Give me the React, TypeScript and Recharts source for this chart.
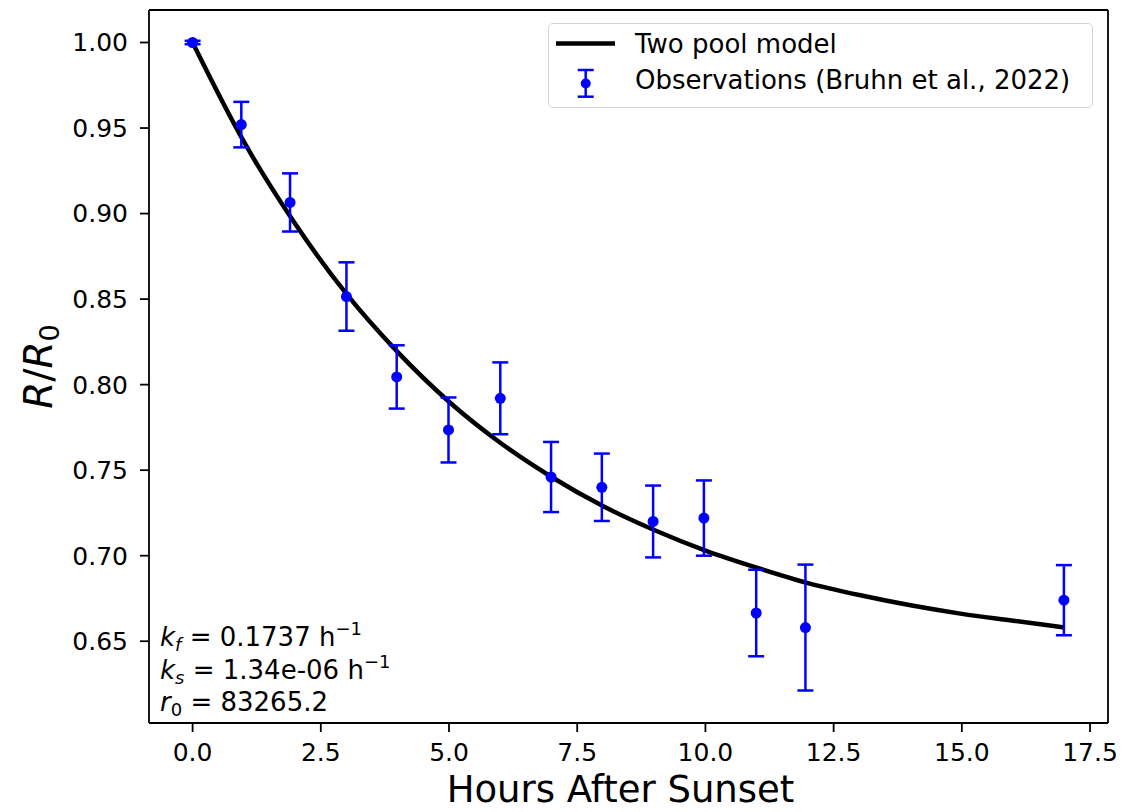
import { ComposedChart, ErrorBar, Label, Legend, Line, ReferenceLine, Scatter, XAxis, YAxis } from "recharts";

const FONT = "'DejaVu Sans', Verdana, sans-serif";
const BLUE = "#0000ff";

// observations (Bruhn et al., 2022)
const OBS_HOURS = [0, 0.95, 1.9, 3.0, 3.98, 4.99, 6.0, 6.99, 7.98, 8.98, 9.97, 10.99, 11.95, 16.99];
const OBS_RATIO = [1.0, 0.952, 0.9065, 0.8515, 0.8045, 0.7735, 0.792, 0.746, 0.74, 0.72, 0.722, 0.6665, 0.658, 0.674];
const OBS_ERR = [0.001, 0.0133, 0.017, 0.02, 0.0185, 0.019, 0.021, 0.0205, 0.0197, 0.021, 0.022, 0.0253, 0.0368, 0.0205];

// two pool model curve
const MODEL_HOURS = [0, 1, 2, 3, 4, 5, 6, 7, 8, 9, 10, 11, 12, 13, 14, 15, 16, 17];
const MODEL_RATIO = [1.0, 0.942, 0.894, 0.853, 0.819, 0.79, 0.766, 0.746, 0.729, 0.715, 0.703, 0.693, 0.684, 0.677, 0.671, 0.666, 0.662, 0.658];

const X_TICKS = [0, 2.5, 5, 7.5, 10, 12.5, 15, 17.5];
const Y_TICKS = [0.65, 0.7, 0.75, 0.8, 0.85, 0.9, 0.95, 1.0];

const X_DOMAIN = [-0.85, 17.85];
const Y_DOMAIN = [0.6022, 1.019];

const obsData = OBS_HOURS.map((x, i) => ({ x, y: OBS_RATIO[i], err: OBS_ERR[i] }));
const modelData = MODEL_HOURS.map((x, i) => ({ x, y: MODEL_RATIO[i] }));

const TICK_STYLE = { fontSize: 25, fill: "#000", fontFamily: FONT };
const AXIS_LINE = { stroke: "#000", strokeWidth: 1.8 };

function ObsDot(props: any) {
	const { cx, cy } = props;
	if (cx == null || cy == null) return null;
	return <circle cx={cx} cy={cy} r={5.5} fill={BLUE} />;
}

function LegendBox() {
	return (
		<div
			style={{
				position: "relative",
				boxSizing: "border-box",
				width: 545,
				height: 85,
				border: "1.5px solid #d4d4d4",
				borderRadius: 5,
				background: "rgba(255,255,255,0.8)"
			}}
		>
			<svg width={545} height={85} style={{ position: "absolute", left: -1.5, top: -1.5 }}>
				<line x1={8} x2={67} y1={20.5} y2={20.5} stroke="#000" strokeWidth={4.5} />
				<line x1={37.7} x2={37.7} y1={47} y2={73.7} stroke={BLUE} strokeWidth={2.5} />
				<line x1={29.7} x2={45.7} y1={47} y2={47} stroke={BLUE} strokeWidth={2.5} />
				<line x1={29.7} x2={45.7} y1={73.7} y2={73.7} stroke={BLUE} strokeWidth={2.5} />
				<circle cx={37.7} cy={60.5} r={5} fill={BLUE} />
				<text x={87} y={29.5} fontSize={26} fontFamily={FONT} fill="#000">
					Two pool model
				</text>
				<text x={87} y={66} fontSize={26} fontFamily={FONT} fill="#000">
					Observations (Bruhn et al., 2022)
				</text>
			</svg>
		</div>
	);
}

function RatioLabel(props: any) {
	const { viewBox } = props;
	const cx = 52;
	const cy = viewBox.y + viewBox.height / 2;
	return (
		<text
			x={cx}
			y={cy}
			transform={`rotate(-90, ${cx}, ${cy})`}
			textAnchor="middle"
			fontSize={39}
			fontFamily={FONT}
			fill="#000"
		>
			<tspan fontStyle="italic">R</tspan>
			<tspan>/</tspan>
			<tspan fontStyle="italic">R</tspan>
			<tspan fontSize={27} dy={7}>
				0
			</tspan>
		</text>
	);
}

export default function App() {
	return (
		<div style={{ position: "absolute", left: 0, top: 0, width: 1147, height: 812, background: "#fff" }}>
			<ComposedChart width={1147} height={812} margin={{ top: 10, right: 39, left: 0, bottom: 0 }}>
				<XAxis
					type="number"
					dataKey="x"
					domain={X_DOMAIN}
					allowDataOverflow
					ticks={X_TICKS}
					tickFormatter={(v: number) => v.toFixed(1)}
					height={89}
					tickSize={9}
					tickMargin={11}
					tick={TICK_STYLE}
					tickLine={AXIS_LINE}
					axisLine={AXIS_LINE}
				>
					<Label
						value="Hours After Sunset"
						position="insideBottom"
						offset={10}
						dx={-8}
						style={{ fontSize: 37, fontFamily: FONT, fill: "#000" }}
					/>
				</XAxis>
				<YAxis
					type="number"
					dataKey="y"
					domain={Y_DOMAIN}
					allowDataOverflow
					ticks={Y_TICKS}
					tickFormatter={(v: number) => v.toFixed(2)}
					width={149}
					tickSize={9}
					tickMargin={12}
					tick={TICK_STYLE}
					tickLine={AXIS_LINE}
					axisLine={AXIS_LINE}
				>
					<Label content={RatioLabel} />
				</YAxis>
				{/* top and right spines */}
				<ReferenceLine y={Y_DOMAIN[1]} stroke="#000" strokeWidth={1.8} />
				<ReferenceLine x={X_DOMAIN[1]} stroke="#000" strokeWidth={1.8} />
				<Line
					data={modelData}
					dataKey="y"
					type="monotone"
					stroke="#000"
					strokeWidth={4.5}
					dot={false}
					activeDot={false}
					isAnimationActive={false}
					name="Two pool model"
				/>
				<Scatter data={obsData} dataKey="y" fill={BLUE} shape={ObsDot} isAnimationActive={false} name="Observations">
					<ErrorBar dataKey="err" direction="y" width={8} stroke={BLUE} strokeWidth={2.5} isAnimationActive={false} />
				</Scatter>
				<Legend
					layout="vertical"
					align="center"
					verticalAlign="middle"
					content={LegendBox}
					wrapperStyle={{ left: 548, top: 23, width: 545, height: 85 }}
				/>
			</ComposedChart>
			<svg width={1147} height={812} style={{ position: "absolute", left: 0, top: 0, pointerEvents: "none" }}>
				<text x={160} y={646} fontSize={26} fontFamily={FONT} fill="#000">
					<tspan fontStyle="italic">k</tspan>
					<tspan fontStyle="italic" fontSize={18} dy={5}>f</tspan>
					<tspan dy={-5}> = 0.1737 h</tspan>
					<tspan fontSize={18} dy={-11}>−1</tspan>
				</text>
				<text x={160} y={679} fontSize={26} fontFamily={FONT} fill="#000">
					<tspan fontStyle="italic">k</tspan>
					<tspan fontStyle="italic" fontSize={18} dy={5}>s</tspan>
					<tspan dy={-5}> = 1.34e-06 h</tspan>
					<tspan fontSize={18} dy={-11}>−1</tspan>
				</text>
				<text x={160} y={711} fontSize={26} fontFamily={FONT} fill="#000">
					<tspan fontStyle="italic">r</tspan>
					<tspan fontSize={18} dy={5}>0</tspan>
					<tspan dy={-5}> = 83265.2</tspan>
				</text>
			</svg>
		</div>
	);
}
